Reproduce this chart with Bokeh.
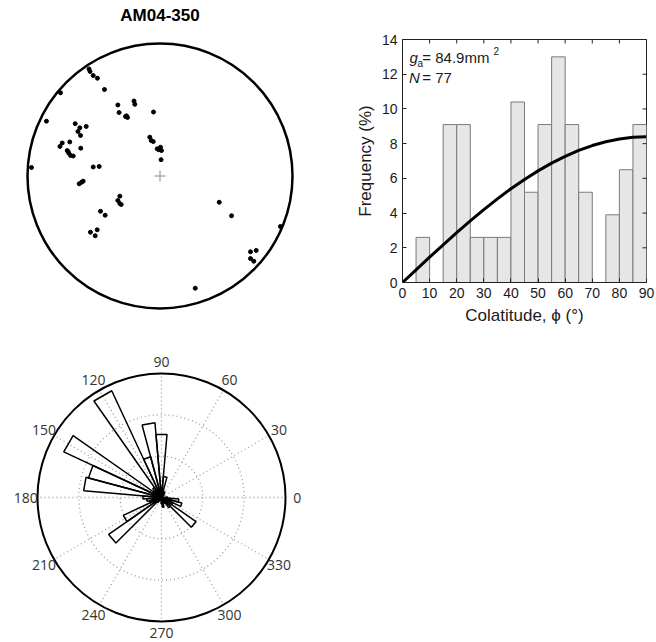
import math
from bokeh.plotting import figure
from bokeh.layouts import row, column
from bokeh.models import Label, FixedTicker, Range1d
from bokeh.core.properties import value
from bokeh.embed import file_html
from bokeh.resources import INLINE

# ---------------- data ----------------
# stereonet (equal-area projection, unit = primitive circle radius)
stereo_x = [-0.536, -0.528, -0.504, -0.472, -0.419, -0.751, -0.857, -0.318, -0.309, -0.253,
            -0.245, -0.260, -0.196, -0.190, -0.049, -0.640, -0.605, -0.619, -0.600, -0.557,
            -0.738, -0.755, -0.681, -0.598, -0.700, -0.688, -0.675, -0.655, -0.694, -0.077,
            -0.066, -0.051, -0.021, 0.004, 0.011, -0.009, 0.008, -0.970, -0.504, -0.459,
            -0.610, -0.592, -0.580, -0.303, -0.318, -0.293, -0.303, -0.449, -0.414, -0.525,
            -0.474, -0.489, 0.447, 0.540, 0.909, 0.683, 0.726, 0.683, 0.708, 0.266]
stereo_y = [0.808, 0.789, 0.758, 0.738, 0.653, 0.628, 0.414, 0.536, 0.479, 0.454,
            0.442, 0.449, 0.566, 0.541, 0.483, 0.395, 0.364, 0.336, 0.306, 0.374,
            0.249, 0.223, 0.257, 0.210, 0.192, 0.172, 0.155, 0.151, 0.185, 0.293,
            0.268, 0.260, 0.205, 0.217, 0.192, 0.198, 0.123, 0.064, 0.068, 0.072,
            -0.059, -0.047, -0.039, -0.152, -0.185, -0.215, -0.208, -0.266, -0.296, -0.424,
            -0.406, -0.451, -0.198, -0.300, -0.381, -0.572, -0.562, -0.623, -0.643, -0.847]

# histogram of colatitude
bin_left = [0, 5, 10, 15, 20, 25, 30, 35, 40, 45, 50, 55, 60, 65, 70, 75, 80, 85]
bin_width = 5
freq = [0, 2.6, 0, 9.1, 9.1, 2.6, 2.6, 2.6, 10.4, 5.2, 9.1, 13.0, 9.1, 5.2, 0, 3.9, 6.5, 9.1]
curve_phi = [0, 5, 10, 15, 20, 25, 30, 35, 40, 45, 50, 55, 60, 65, 70, 75, 80, 85, 90]
curve_freq = [0, 0.73, 1.46, 2.17, 2.87, 3.55, 4.2, 4.82, 5.4, 5.94, 6.43, 6.88, 7.27,
              7.61, 7.89, 8.11, 8.27, 8.37, 8.4]
x_ticks = [0, 10, 20, 30, 40, 50, 60, 70, 80, 90]
y_ticks = [0, 2, 4, 6, 8, 10, 12, 14]
x_max = 90
y_max = 14

# rose diagram (bin centres in degrees, petal length relative to outer ring)
rose_centers = list(range(0, 360, 10))
rose_values = [0.05, 0, 0, 0, 0, 0.03, 0.05, 0.05, 0.17, 0.51,
               0.605, 0.34, 0.95, 0.10, 0.08, 0.87, 0.61, 0.63, 0.15, 0.12,
               0.10, 0.34, 0.52, 0.05, 0.03, 0, 0, 0.05, 0.08, 0.05,
               0.05, 0.10, 0.34, 0.10, 0.17, 0.14]
rose_rmax = 1.0
rose_bin_width = 10
rose_label_angles = [0, 30, 60, 90, 120, 150, 180, 210, 240, 270, 300, 330]

FONT = "Liberation Sans"

# ---------------- stereonet ----------------
R1 = 132.5
sx = figure(width=330, height=320, output_backend="svg", toolbar_location=None,
            x_range=Range1d(-159.5 / R1, 170.5 / R1), y_range=Range1d(-144.5 / R1, 175.5 / R1),
            x_axis_type=None, y_axis_type=None, min_border=0)
sx.grid.visible = False
sx.outline_line_color = None
sx.circle(x=[0], y=[0], radius=1, fill_color=None, line_color="black", line_width=2.5)
sx.scatter(x=[0], y=[0], marker="cross", size=11, line_color="#888888", line_width=1)
sx.scatter(x=stereo_x, y=stereo_y, size=4, fill_color="black", line_color="black")
sx.add_layout(Label(x=0, y=(175.5 - 15) / R1, text="AM04-350", text_align="center",
                    text_baseline="middle", text_font=FONT, text_font_style="bold",
                    text_font_size="17px", text_color="black"))

# ---------------- histogram ----------------
h = figure(width=326, height=330, output_backend="svg", toolbar_location=None,
           x_range=Range1d(0, x_max), y_range=Range1d(0, y_max),
           min_border_left=72, min_border_right=10, min_border_top=39, min_border_bottom=48)
h.grid.visible = False
h.outline_line_color = "#222222"
bin_right = [b + bin_width for b in bin_left]
h.quad(left=bin_left, right=bin_right, bottom=0, top=freq, fill_color="#e6e6e6",
       line_color="#7a7a7a", line_width=1)
h.line(curve_phi, curve_freq, line_color="black", line_width=3)

for ax in h.xaxis:
    ax.ticker = FixedTicker(ticks=x_ticks)
for ax in h.yaxis:
    ax.ticker = FixedTicker(ticks=y_ticks)
for ax in list(h.xaxis) + list(h.yaxis):
    ax.major_tick_in = 4
    ax.major_tick_out = 0
    ax.minor_tick_line_color = None
    ax.axis_line_color = "#222222"
    ax.major_tick_line_color = "#222222"
    ax.major_label_text_font = FONT
    ax.major_label_text_font_size = "14px"
    ax.major_label_text_color = "#1a1a1a"
    ax.axis_label_text_font = FONT
    ax.axis_label_text_font_size = "17px"
    ax.axis_label_text_font_style = "normal"
    ax.axis_label_text_color = "#1a1a1a"
    ax.major_label_standoff = 5
h.xaxis.axis_label = "Colatitude, ϕ (°)"
h.yaxis.axis_label = "Frequency (%)"
h.xaxis.axis_label_standoff = 5
h.yaxis.axis_label_standoff = 4

# inward ticks on the top and right edges of the box (clipped half-dashes)
h.scatter(x=x_ticks, y=[y_max] * len(x_ticks), marker="dash", angle=math.pi / 2,
          size=8, line_color="#222222", line_width=1)
h.scatter(x=[x_max] * len(y_ticks), y=y_ticks, marker="dash", size=8,
          line_color="#222222", line_width=1)

def lab(x, y, text, size="15px", style="normal"):
    h.add_layout(Label(x=x, y=y, text=text, text_font=FONT, text_font_size=size,
                       text_font_style=style, text_baseline="alphabetic",
                       text_align="left", text_color="#1a1a1a"))

lab(2.6, 12.99, "g", style="italic")
lab(5.5, 12.62, "a", size="10px")
lab(7.3, 12.97, "= 84.9mm")
lab(33.6, 13.31, "2", size="10px")
lab(2.4, 11.8, "N", style="italic")
lab(7.3, 11.8, "= 77")

# ---------------- rose diagram ----------------
R2 = 124.0
r = figure(width=330, height=322, output_backend="svg", toolbar_location=None,
           x_range=Range1d(-161 / R2, 169 / R2), y_range=Range1d(-145 / R2, 177 / R2),
           x_axis_type=None, y_axis_type=None, min_border=0)
r.grid.visible = False
r.outline_line_color = None

grid_col = "#9a9a9a"
r.circle(x=[0, 0], y=[0, 0], radius=[rose_rmax / 3, 2 * rose_rmax / 3], fill_color=None,
         line_color=grid_col, line_dash="1 3", line_width=1.3)
gx1 = [rose_rmax * math.cos(math.radians(a)) for a in rose_label_angles]
gy1 = [rose_rmax * math.sin(math.radians(a)) for a in rose_label_angles]
r.segment(x0=[0] * len(gx1), y0=[0] * len(gy1), x1=gx1, y1=gy1, line_color=grid_col,
          line_dash="1 3", line_width=1.3)
r.circle(x=[0], y=[0], radius=rose_rmax, fill_color=None, line_color="black", line_width=2)

pxs, pys = [], []
for c, v in zip(rose_centers, rose_values):
    if v <= 0:
        continue
    a1 = math.radians(c - rose_bin_width / 2)
    a2 = math.radians(c + rose_bin_width / 2)
    pxs.append([0, v * math.cos(a1), v * math.cos(a2)])
    pys.append([0, v * math.sin(a1), v * math.sin(a2)])
r.patches(xs=pxs, ys=pys, fill_color=None, line_color="black", line_width=1.5)

lr = 1.095 * rose_rmax
r.text(x=[lr * math.cos(math.radians(a)) for a in rose_label_angles],
       y=[lr * math.sin(math.radians(a)) for a in rose_label_angles],
       text=[str(a) for a in rose_label_angles], text_align="center", text_baseline="middle",
       text_font=value("Open Sans"), text_font_size="14px", text_color="#333333")

layout = row(column(sx, r), h)
open("out.html", "w").write(file_html(layout, INLINE))
